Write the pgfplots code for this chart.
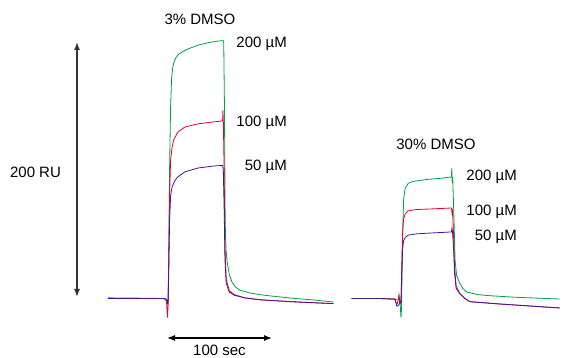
\documentclass[border=0pt]{standalone}
\usepackage{pgfplots}
\pgfplotsset{compat=1.18}
\usepackage{fontspec}
\setmainfont{Liberation Sans}
\usetikzlibrary{arrows.meta}
\definecolor{cgreen}{RGB}{0,160,70}
\definecolor{cred}{RGB}{230,0,50}
\definecolor{cpurple}{RGB}{70,20,150}
\definecolor{arrgray}{RGB}{51,51,51}
\begin{document}
\begin{tikzpicture}
\fontsize{15}{18}\selectfont
\useasboundingbox (0,0) rectangle (563pt,-358pt);
\pgfplotsset{sens/.style={hide axis, clip=false, x=1.03pt, y=1.28pt, anchor=south west,
  every axis plot/.append style={line width=0.8pt, no markers}}}
% ---------- left panel: 3% DMSO ----------
\begin{axis}[sens, xmin=-58, xmax=161, ymin=-20, ymax=210, at={(107.76pt,-324.1pt)}]
\addplot[cgreen] table {
-58 0.5
-40 0.4
-20 0.2
-5 0
-1 -0.5
0 -2
0.5 -3
1.2 30
2 100
3 150
4 172
5 180
6 184
8 188
11 191
15 193
20 195
30 198
40 200
50 201.2
54 201.5
54.6 200
55.3 150
56 60
56.8 38
58 28
60 19
62.5 13
66 9
70 6.6
80 4.3
90 3
100 2
120 0.3
140 -1
161 -2.7
};
\addplot[cred] table {
-58 0
-20 0
-3 0
-1 -2
0 -15
0.6 -5
1.2 30
2 80
3 108
4.4 118
6 124
10 130
17 134
30 136.5
45 138
53.5 138.7
53.8 147
54.2 139
55 100
55.8 40
57 15
60 6
65 3
75 0.5
90 -1
120 -2.5
161 -4
};
\addplot[cpurple] table {
-58 0
-20 0
-3 0
-1 -1
0 -3.5
0.6 -2
1.2 20
2 60
3 80
4.4 87
7 92
10 95
17 99
30 102
45 103.5
53.5 104
54.2 100
55 70
55.8 30
57 12
60 5
65 2.5
75 0.5
90 -1
120 -2.5
161 -4
};
\end{axis}
% ---------- right panel: 30% DMSO ----------
\begin{axis}[sens, xmin=-48, xmax=154, ymin=-20, ymax=120, at={(351.56pt,-324.1pt)}]
\addplot[cgreen] table {
-48 0
-20 0
-6 -0.5
-5 -1
-2.5 -1
-2 3
-1 -2
0 -15
0.5 -8
1 20
1.7 55
2.6 78
4 86
7 90
12 91.5
25 93
40 94
49 95
49.3 102
49.7 90
50.2 95
51.5 60
52.5 30
54 18
57 12
60 8
64 5
75 3
86 2.2
110 1
154 -0.4
};
\addplot[cred] table {
-48 0
-20 0
-6 -0.5
-5 -3
-3.5 -4
-2 2
-1 -4
0 -3
0.6 20
1.5 50
2.5 62
4 66
7 68.5
15 69.5
30 70
49 70.7
49.5 67
50 70
51 50
52 25
53.5 10
57 4
62 0
67 -2.5
96 -4.3
154 -7.4
};
\addplot[cpurple] table {
-48 0
-20 0
-6 -0.5
-5 -3
-4 -6
-2 -5
-1 -2
0 -3
0.6 15
1.5 38
2.5 45
4 47.5
7 49.5
15 50.5
30 51.2
49 52
49.5 55
50 52
51 40
52 20
53.5 8
57 4
62 0
67 -2.5
96 -4.3
154 -7.4
};
\end{axis}
% ---------- annotations ----------
\draw[arrgray, line width=1.4pt, {Latex[length=8pt,width=6pt]}-{Latex[length=8pt,width=6pt]}] (77pt,-42pt) -- (77pt,-297pt);
\draw[black, line width=1.2pt, {Latex[length=8pt,width=6pt]}-{Latex[length=8pt,width=6pt]}] (167pt,-338pt) -- (272pt,-338pt);
\node[anchor=base, inner sep=0pt] at (35.5pt,-178pt) {200 RU};
\node[anchor=base, inner sep=0pt] at (219.5pt,-356pt) {100 sec};
\node[anchor=base, inner sep=0pt] at (200pt,-25pt) {3\% DMSO};
\node[anchor=base east, inner sep=0pt] at (287pt,-48pt) {200 µM};
\node[anchor=base east, inner sep=0pt] at (287pt,-127pt) {100 µM};
\node[anchor=base east, inner sep=0pt] at (287pt,-171pt) {50 µM};
\node[anchor=base, inner sep=0pt] at (436pt,-150pt) {30\% DMSO};
\node[anchor=base east, inner sep=0pt] at (517pt,-181pt) {200 µM};
\node[anchor=base east, inner sep=0pt] at (517pt,-216pt) {100 µM};
\node[anchor=base east, inner sep=0pt] at (517pt,-241pt) {50 µM};
\end{tikzpicture}
\end{document}
